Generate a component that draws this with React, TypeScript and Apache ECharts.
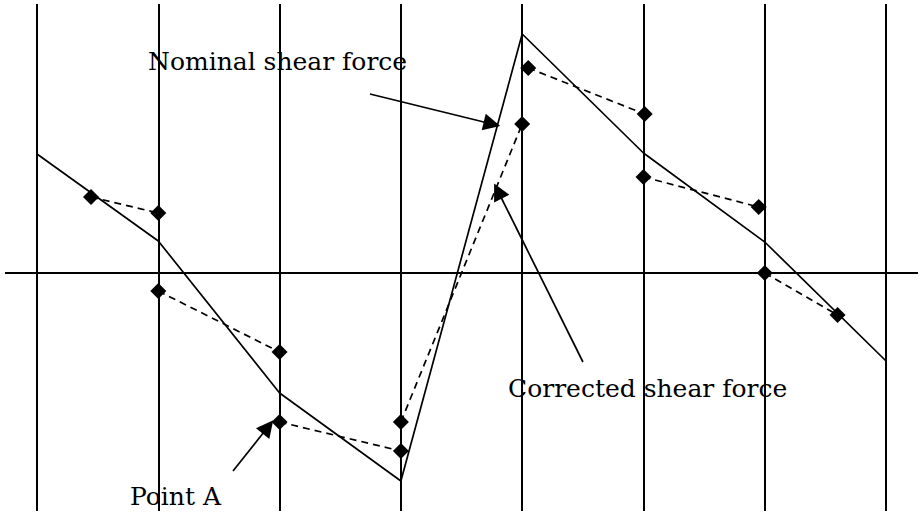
import React, { useEffect, useRef } from "react";
import * as echarts from "echarts";

// Column (section) positions along the beam
const columns = [0, 1, 2, 3, 4, 5, 6, 7];

// Nominal shear force (solid line), value at each column
const nominalX = [0, 1, 2, 3, 4, 5, 6, 7];
const nominalY = [11.9, 3.2, -12.0, -20.8, 23.9, 12.0, 3.1, -8.8];

// Corrected shear force (dashed segments with diamond markers)
const correctedStartX = [0.445, 1, 2, 3, 4.05, 5, 6];
const correctedStartY = [7.6, -1.8, -14.9, -14.9, 20.5, 9.6, 0];
const correctedEndX = [1, 2, 3, 4, 5.01, 5.95, 6.6];
const correctedEndY = [6.0, -7.9, -17.8, 14.9, 15.9, 6.6, -4.2];

// Zero axis extent
const zeroLineX = [-0.264, 7.263];

// Annotation arrows (from -> to), in data units
const arrowFromX = [2.745, 4.501, 1.616];
const arrowFromY = [17.9, -8.9, -19.8];
const arrowToX = [3.751, 3.8, 1.904];
const arrowToY = [14.9, 8.2, -15.4];

// Labels
const labelTexts = ["Nominal shear force", "Corrected shear force", "Point A"];

export default function App() {
  const ref = useRef<HTMLDivElement>(null);

  useEffect(() => {
    if (!ref.current) return;
    const chart = echarts.init(ref.current, null, { renderer: "svg" });

    const series: any[] = [];

    // vertical section lines
    series.push({
      type: "line",
      data: [],
      silent: true,
      markLine: {
        silent: true,
        symbol: "none",
        label: { show: false },
        lineStyle: { color: "#000", width: 2, type: "solid" },
        data: columns.map((c) => ({ xAxis: c })),
      },
    });

    // zero line
    series.push({
      type: "line",
      symbol: "none",
      lineStyle: { color: "#000", width: 2 },
      data: zeroLineX.map((x) => [x, 0]),
    });

    // nominal shear force
    series.push({
      type: "line",
      symbol: "none",
      lineStyle: { color: "#000", width: 1.7 },
      data: nominalX.map((x, i) => [x, nominalY[i]]),
    });

    // corrected shear force segments
    correctedStartX.forEach((_, i) => {
      series.push({
        type: "line",
        symbol: "diamond",
        symbolSize: 16,
        showSymbol: true,
        itemStyle: { color: "#000" },
        lineStyle: { color: "#000", width: 1.7, type: [7, 5] },
        data: [
          [correctedStartX[i], correctedStartY[i]],
          [correctedEndX[i], correctedEndY[i]],
        ],
      });
    });

    // arrows
    series.push({
      type: "lines",
      coordinateSystem: "cartesian2d",
      symbol: ["none", "triangle"],
      symbolSize: [13, 17],
      lineStyle: { color: "#000", width: 1.7, opacity: 1, curveness: 0 },
      itemStyle: { color: "#000" },
      data: arrowFromX.map((x, i) => ({
        coords: [
          [x, arrowFromY[i]],
          [arrowToX[i], arrowToY[i]],
        ],
      })),
    });

    const font = '25px "DejaVu Serif"';
    chart.setOption({
      animation: false,
      backgroundColor: "#fff",
      grid: { left: 0, right: 0, top: 4, bottom: 3, containLabel: false },
      xAxis: {
        type: "value",
        min: -0.305,
        max: 7.288,
        show: false,
      },
      yAxis: {
        type: "value",
        min: -23.8,
        max: 26.9,
        show: false,
      },
      series,
      graphic: [
        {
          type: "text",
          x: 148,
          y: 61,
          style: { text: labelTexts[0], font, fill: "#000", verticalAlign: "middle" },
        },
        {
          type: "text",
          x: 508,
          y: 388,
          style: { text: labelTexts[1], font, fill: "#000", verticalAlign: "middle" },
        },
        {
          type: "text",
          x: 130,
          y: 496,
          style: { text: labelTexts[2], font, fill: "#000", verticalAlign: "middle" },
        },
      ],
    });

    return () => chart.dispose();
  }, []);

  return (
    <div
      ref={ref}
      style={{ position: "fixed", left: 0, top: 0, width: 921, height: 514, background: "#fff" }}
    />
  );
}
